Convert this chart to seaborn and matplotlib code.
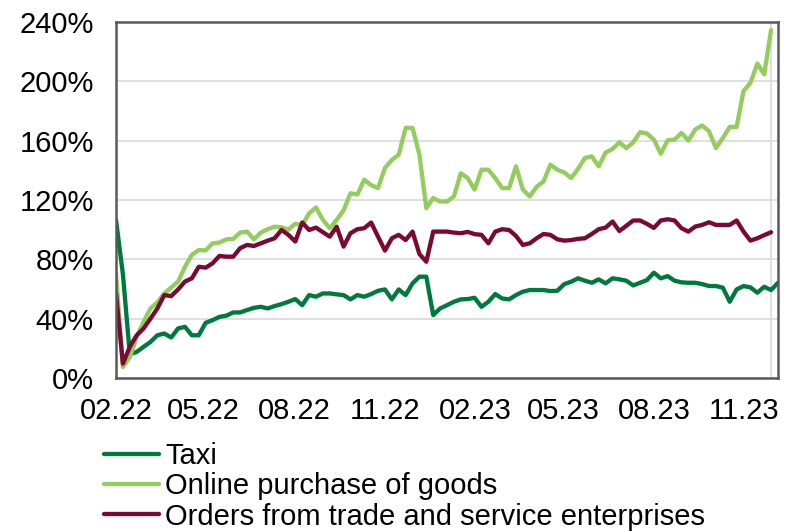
import matplotlib
matplotlib.use("Agg")
import matplotlib.pyplot as plt
import matplotlib.dates as mdates
import numpy as np
import pandas as pd
import seaborn as sns

# Weekly index values, % (series start in early February 2022)
start_date = "2022-02-01"

taxi = [106.5, 70, 16, 17.6, 21, 24.3, 28.8, 30, 27.3, 33.4, 34.5, 28.8, 28.8, 37.2, 39,
        41.2, 42, 44.2, 44.2, 45.8, 47.3, 48, 46.9, 48.5, 49.8, 51.4, 53.2, 49.1, 55.9, 54.8,
        57, 57, 56.4, 55.9, 53, 55.9, 54.8, 56.6, 58.8, 59.7, 53, 59.7, 55.9, 63.8, 68.3,
        68.3, 42.4, 46.9, 49.1, 51.4, 53, 53.2, 54.1, 48, 51.4, 56.6, 53.6, 53, 55.9, 58.2,
        59.3, 59.3, 59.3, 58.6, 58.8, 63.3, 64.9, 67.2, 65.6, 64.2, 66.5, 63.8, 67.2, 66.5,
        65.6, 62.4, 64.2, 66, 71, 67.2, 68.7, 65.6, 64.5, 64.2, 64.2, 63.3, 62, 62, 60.9,
        51.4, 59.7, 62, 61.1, 57.5, 61.5, 59.3, 64.2]

online = [70.5, 7.4, 14, 27.7, 37.9, 46.9, 51, 57, 61, 65, 75, 83, 86.3, 86, 90.8, 91.3,
          93.5, 93.8, 98, 98.7, 93.5, 98, 100.3, 102, 101.6, 100, 104, 103, 111, 115, 106.6,
          101, 106.6, 113, 124.5, 123.7, 133.7, 130, 128, 141.6, 147, 150.6, 168.6, 168.6,
          150.6, 114.5, 121.3, 119, 119, 122.4, 138, 134.8, 127, 140.4, 140.4, 134.8, 128,
          128, 142.7, 127, 122.4, 129, 132.5, 143.8, 140.4, 138.6, 134.8, 141, 148.3, 149.4,
          142.7, 152, 154.4, 158.9, 155, 158.9, 165.7, 164.8, 160.7, 151.2, 160.3, 160.7,
          165.2, 160, 167.5, 170.2, 166.3, 155, 161.8, 169.3, 169.3, 193.4, 199, 212, 204.7,
          234.6]

orders = [57, 9.7, 21, 28.8, 33.4, 40, 46.9, 55.9, 55.2, 59.7, 65, 67.2, 75, 74.4, 77.3,
          82.3, 81.8, 81.8, 87.5, 89.7, 89, 90.8, 92.6, 94.2, 99.8, 96.5, 92, 104.8, 99.8,
          101.4, 98.3, 95.3, 102, 88.6, 97.6, 100.3, 101, 104.8, 95.3, 85.9, 94.2, 96.5, 93,
          98.7, 83.6, 78.4, 98.7, 98.7, 98.7, 98, 97.6, 98.5, 97, 96.5, 90.8, 98.7, 100.3,
          99.8, 95.8, 89.7, 90.8, 94.2, 97.1, 96.5, 93.5, 92.6, 93, 93.8, 94.2, 97.1, 100.3,
          101.4, 105.5, 99.1, 102.6, 106.2, 106.2, 103.9, 101.2, 106.2, 107, 106.2, 101, 98.7,
          102.1, 103.2, 105, 103.2, 103.2, 103.2, 106.2, 98.7, 92.6, 94.2, 96.3, 98.3]

series_names = ["Taxi", "Online purchase of goods", "Orders from trade and service enterprises"]
series_colors = ["#00793F", "#92CD5E", "#7A0A33"]
y_ticks = [0, 40, 80, 120, 160, 200, 240]
x_tick_dates = ["2022-02-01", "2022-05-01", "2022-08-01", "2022-11-01",
                "2023-02-01", "2023-05-01", "2023-08-01", "2023-11-01"]

frames = []
for name, vals in zip(series_names, [taxi, online, orders]):
    frames.append(pd.DataFrame({
        "date": pd.date_range(start_date, periods=len(vals), freq="7D"),
        "value": vals,
        "series": name,
    }))
df = pd.concat(frames, ignore_index=True)

sns.set_style("white")
plt.rcParams["font.family"] = ["Liberation Sans", "DejaVu Sans"]
plt.rcParams["text.color"] = "black"
plt.rcParams["xtick.color"] = "black"
plt.rcParams["ytick.color"] = "black"
FS = 21

fig = plt.figure(figsize=(7.86, 5.31), dpi=100)
ax = fig.add_axes([116 / 786, 1 - 378 / 531, (778 - 116) / 786, (378 - 22) / 531])

sns.lineplot(data=df, x="date", y="value", hue="series", hue_order=series_names,
             palette=series_colors, linewidth=3.1, ax=ax, legend=True)

dates_all = df["date"]
ax.set_xlim(dates_all.min(), dates_all.max())
ax.set_ylim(0, 240)
ax.set_yticks(y_ticks)
ax.set_yticklabels([f"{v}%" for v in y_ticks], fontsize=FS, color="black")
ax.set_xticks(pd.to_datetime(x_tick_dates))
ax.xaxis.set_major_formatter(mdates.DateFormatter("%m.%y"))
for lbl in ax.get_xticklabels():
    lbl.set_fontsize(FS)
    lbl.set_color("black")
ax.tick_params(axis="both", length=0, labelcolor="black")
ax.tick_params(axis="y", pad=16)
ax.tick_params(axis="x", pad=14)
ax.set_xlabel("")
ax.set_ylabel("")

ax.grid(axis="y", color="#D9D9D9", linewidth=1.2)
ax.set_axisbelow(True)
last_online = frames[1]["date"].iloc[-1]
ax.axvline(last_online, color="#D9D9D9", linewidth=1.2, zorder=0)
for sp in ax.spines.values():
    sp.set_color("#595959")
    sp.set_linewidth(1.8)

handles, labels = ax.get_legend_handles_labels()
leg = ax.legend(handles, labels, loc="upper left", bbox_to_anchor=(104 / 786, 1 - 442 / 531),
                bbox_transform=fig.transFigure, frameon=False, fontsize=FS,
                handlelength=1.9, handletextpad=0.2, labelspacing=0.08,
                borderaxespad=0, borderpad=0)
for t in leg.get_texts():
    t.set_color("black")

fig.savefig("out.png", dpi=100)
